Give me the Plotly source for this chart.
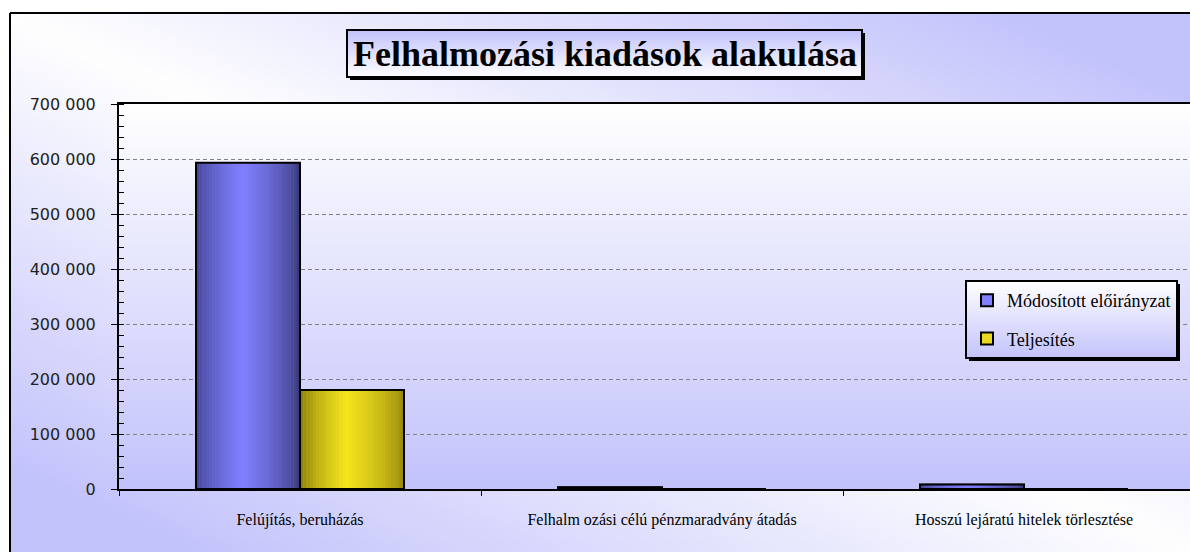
import base64, struct, zlib
import numpy as np
import plotly.graph_objects as go

# ---------------- data ----------------
categories = ["Felújítás, beruházás",
              "Felhalmozási célú pénzmaradvány átadás",
              "Hosszú lejáratú hitelek törlesztése"]
cat_labels = ["Felújítás, beruházás",
              "Felhalm ozási célú pénzmaradvány átadás",
              "Hosszú lejáratú hitelek törlesztése"]
series_names = ["Módosított előirányzat", "Teljesítés"]
modositott = [593000, 3000, 8000]
teljesites = [180000, 0, 0]
y_tickvals = [0, 100000, 200000, 300000, 400000, 500000, 600000, 700000]
y_ticktext = ["0", "100 000", "200 000", "300 000", "400 000", "500 000", "600 000", "700 000"]
title_text = "Felhalmozási kiadások alakulása"

# ---------------- helpers ----------------
def png_uri(arr):
    arr = np.clip(arr, 0, 255).astype(np.uint8)
    h, w, _ = arr.shape
    raw = b"".join(b"\x00" + arr[r].tobytes() for r in range(h))
    def chunk(t, d):
        c = struct.pack(">I", len(d)) + t + d
        return c + struct.pack(">I", zlib.crc32(t + d) & 0xffffffff)
    png = b"\x89PNG\r\n\x1a\n" + chunk(b"IHDR", struct.pack(">IIBBBBB", w, h, 8, 2, 0, 0, 0)) \
        + chunk(b"IDAT", zlib.compress(raw, 9)) + chunk(b"IEND", b"")
    return "data:image/png;base64," + base64.b64encode(png).decode()

WHITE = np.array([255, 255, 255.0])
LAV = np.array([195, 195, 252.0])

gw, gh = 128, 64
u = np.linspace(0, 1, gw)[None, :]
v = np.linspace(0, 1, gh)[:, None]
f = np.clip(np.abs(u - v) * 1.15, 0, 1)[..., None]
chart_bg = WHITE + (LAV - WHITE) * f
pv = np.linspace(0, 1, 128)[:, None, None] * np.ones((1, 4, 1))
plot_bg = WHITE + (LAV - WHITE) * pv
tv = np.linspace(0, 1, 64)[:, None, None] * np.ones((1, 4, 1))
title_bg = LAV + (WHITE - LAV) * tv

# ---------------- geometry (pixels) ----------------
W_FIG, H_FIG = 1190, 552
L, T, B = 119, 104, 489
PW, PH = W_FIG - L, B - T
def px(x): return (x - L) / PW
def py(y): return (B - y) / PH
cat_w = 362.0
x_hi = -0.5 + PW / cat_w

bar_w = 104 / cat_w
N = 32

def grad_color(t, edge_l, peak, edge_r):
    tp = 0.45
    if t < tp:
        g = (t / tp) ** 0.6
        c = np.array(edge_l) + (np.array(peak) - np.array(edge_l)) * g
    else:
        g = ((1 - t) / (1 - tp)) ** 0.6
        c = np.array(edge_r) + (np.array(peak) - np.array(edge_r)) * g
    return "rgb(%d,%d,%d)" % tuple(int(round(x)) for x in c)

series = [
    (series_names[0], modositott, -bar_w, (60, 60, 135), (128, 128, 255), (50, 50, 105), "#8080ff"),
    (series_names[1], teljesites, 0.0, (125, 112, 10), (244, 228, 28), (140, 125, 15), "#e8d820"),
]

fig = go.Figure()
for k, (name, vals, off, el, pk, er, mid) in enumerate(series):
    fig.add_trace(go.Bar(x=categories, y=vals, name=name, width=bar_w, offset=off,
                         marker=dict(color=mid, line=dict(color="black", width=1.5)),
                         legendgroup="g%d" % k, showlegend=True, hoverinfo="skip"))
    for i in range(N):
        t = (i + 0.5) / N
        fig.add_trace(go.Bar(x=categories, y=vals, width=bar_w / N * 1.08,
                             offset=off + i * bar_w / N,
                             marker=dict(color=grad_color(t, el, pk, er), line=dict(width=0)),
                             showlegend=False, hoverinfo="skip"))
    fig.add_trace(go.Bar(x=categories, y=vals, width=bar_w, offset=off,
                         marker=dict(color="rgba(0,0,0,0)", line=dict(color="black", width=2)),
                         showlegend=False, hoverinfo="skip"))

images = [
    dict(source=png_uri(chart_bg), xref="paper", yref="paper",
         x=px(10), y=py(13), sizex=(W_FIG - 10) / PW, sizey=(H_FIG - 13) / PH,
         xanchor="left", yanchor="top", sizing="stretch", layer="below"),
    dict(source=png_uri(plot_bg), xref="paper", yref="paper",
         x=0, y=1, sizex=1, sizey=1, xanchor="left", yanchor="top",
         sizing="stretch", layer="below"),
    dict(source=png_uri(title_bg), xref="paper", yref="paper",
         x=px(347), y=py(30), sizex=(862 - 347) / PW, sizey=(77 - 30) / PH,
         xanchor="left", yanchor="top", sizing="stretch", layer="above"),
]

shapes = [
    dict(type="line", xref="paper", yref="paper", x0=px(10), x1=px(1195), y0=py(13), y1=py(13),
         line=dict(color="black", width=2)),
    dict(type="line", xref="paper", yref="paper", x0=px(10), x1=px(10), y0=py(13), y1=py(560),
         line=dict(color="black", width=2)),
    dict(type="rect", xref="paper", yref="paper", x0=px(347), x1=px(862), y0=py(77), y1=py(30),
         line=dict(color="black", width=2), fillcolor="rgba(0,0,0,0)"),
    dict(type="rect", xref="paper", yref="paper", x0=px(350), x1=px(865), y0=py(80), y1=py(77),
         line=dict(width=0), fillcolor="black"),
    dict(type="rect", xref="paper", yref="paper", x0=px(862), x1=px(865), y0=py(80), y1=py(33),
         line=dict(width=0), fillcolor="black"),
]

fig.update_layout(
    width=W_FIG, height=H_FIG,
    margin=dict(l=L, r=0, t=T, b=H_FIG - B),
    paper_bgcolor="white", plot_bgcolor="rgba(0,0,0,0)",
    barmode="overlay",
    images=images, shapes=shapes,
    annotations=[dict(text="<b>" + title_text + "</b>", xref="paper", yref="paper",
                      x=px(604.5), y=py(54), xanchor="center", yanchor="middle",
                      showarrow=False,
                      font=dict(family="Liberation Serif", size=36, color="black"))],
    legend=dict(x=px(965), y=py(280), xanchor="left", yanchor="top",
                bgcolor="#ececfd", bordercolor="black", borderwidth=2,
                font=dict(family="Liberation Serif", size=18, color="black"),
                tracegroupgap=12, itemsizing="constant"),
    xaxis=dict(type="category", range=[-0.5, x_hi], showgrid=False,
               tickmode="array", tickvals=categories, ticktext=cat_labels,
               ticks="outside", tickson="boundaries", ticklen=5, tickcolor="black", tickwidth=1,
               showline=True, linecolor="black", linewidth=2, mirror=True,
               ticklabelstandoff=15,
               tickfont=dict(family="Liberation Serif", size=16, color="black")),
    yaxis=dict(range=[0, 700000], tickmode="array", tickvals=y_tickvals, ticktext=y_ticktext,
               ticks="outside", ticklen=6, tickcolor="black", tickwidth=1,
               showline=True, linecolor="black", linewidth=2,
               showgrid=True, gridcolor="#808080", gridwidth=1, griddash="4px,3px",
               zeroline=False, ticklabelstandoff=12,
               minor=dict(ticks="inside", dtick=20000, ticklen=5, tickcolor="black", showgrid=False),
               tickfont=dict(family="DejaVu Sans", size=16, color="#222222")),
)

post = """
document.body.style.margin='0';
document.body.style.padding='0';
var gd=document.getElementsByClassName('plotly-graph-div')[0];
function decorateLegend(){
  var bg=gd.querySelector('.legend .bg');
  if(!bg) return;
  var leg=gd.querySelector('.legend');
  var ns='http://www.w3.org/2000/svg';
  var svg=gd.querySelector('svg.main-svg');
  if(!document.getElementById('leggrad')){
    var defs=svg.querySelector('defs')||svg.insertBefore(document.createElementNS(ns,'defs'),svg.firstChild);
    var lg=document.createElementNS(ns,'linearGradient');
    lg.setAttribute('id','leggrad'); lg.setAttribute('x1','0'); lg.setAttribute('y1','0');
    lg.setAttribute('x2','0'); lg.setAttribute('y2','1');
    var s1=document.createElementNS(ns,'stop'); s1.setAttribute('offset','0'); s1.setAttribute('stop-color','#ffffff');
    var s2=document.createElementNS(ns,'stop'); s2.setAttribute('offset','1'); s2.setAttribute('stop-color','#c3c3fc');
    lg.appendChild(s1); lg.appendChild(s2); defs.appendChild(lg);
  }
  bg.style.fill='url(#leggrad)';
  var old=document.getElementById('legshadow'); if(old) old.remove();
  var rect=document.createElementNS(ns,'rect');
  rect.setAttribute('id','legshadow');
  var x=parseFloat(bg.getAttribute('x')||0), y=parseFloat(bg.getAttribute('y')||0);
  rect.setAttribute('x', x+3); rect.setAttribute('y', y+3);
  rect.setAttribute('width', bg.getAttribute('width'));
  rect.setAttribute('height', bg.getAttribute('height'));
  rect.setAttribute('fill','black');
  leg.insertBefore(rect, leg.firstChild);
}
decorateLegend();
gd.on('plotly_afterplot', decorateLegend);
"""

fig.write_html("out.html", post_script=post, config={"displayModeBar": False})
